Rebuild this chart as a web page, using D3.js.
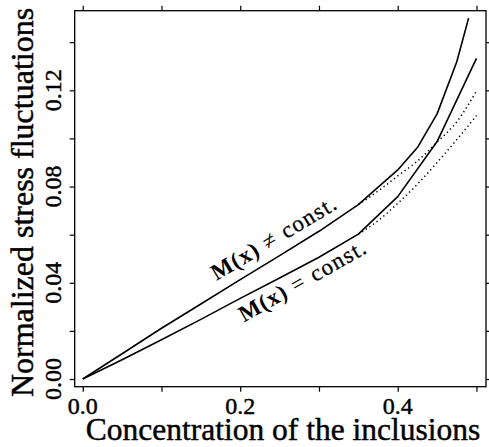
<!DOCTYPE html>
<html>
<head>
<meta charset="utf-8">
<script src="https://cdn.jsdelivr.net/npm/d3@7"></script>
<style>
  html, body { margin: 0; padding: 0; background: #fff; }
  svg { display: block; }
  text { font-family: "Liberation Serif", "Times New Roman", serif; fill: #000; }
</style>
</head>
<body>
<svg id="chart" width="489" height="447"></svg>
<script>
// ---- data ----
const xTickValues = [0, 0.1, 0.2, 0.3, 0.4, 0.5];
const xTickLabels = [0, 0.2, 0.4];
const yTickValues = [0, 0.02, 0.04, 0.06, 0.08, 0.10, 0.12, 0.14];
const yTickLabels = [0, 0.04, 0.08, 0.12];

// M(x) != const. (solid)
const varX = [0, 0.05, 0.1, 0.15, 0.2, 0.25, 0.3, 0.35, 0.4, 0.425, 0.45, 0.475, 0.49];
const varY = [0, 0.0105, 0.0211, 0.0312, 0.0413, 0.0513, 0.0614, 0.0725, 0.0869, 0.0962, 0.1102, 0.1319, 0.150];
// M(x) = const. (solid)
const constX = [0, 0.05, 0.1, 0.15, 0.2, 0.25, 0.3, 0.35, 0.4, 0.45, 0.5];
const constY = [0, 0.008, 0.0163, 0.0248, 0.0335, 0.042, 0.0506, 0.0602, 0.0758, 0.0987, 0.1333];
// dotted continuations
const dotX = [0.35, 0.375, 0.4, 0.425, 0.45, 0.475, 0.5];
const varDotY = [0.0725, 0.0781, 0.0844, 0.0906, 0.0985, 0.1069, 0.1197];
const constDotY = [0.0602, 0.0658, 0.0730, 0.0810, 0.0900, 0.0995, 0.1095];

const xTitle = "Concentration of the inclusions";
const yTitle = "Normalized stress fluctuations";

// ---- layout ----
const svg = d3.select("#chart");
const L = 74.7, R = 486, T = 10.7, B = 386.7;
const x = d3.scaleLinear().domain([-0.0102, 0.5121]).range([L, R]);
const y = d3.scaleLinear().domain([-0.0032, 0.1531]).range([B, T]);

// frame
svg.append("rect").attr("x", L).attr("y", T).attr("width", R - L).attr("height", B - T)
  .attr("fill", "none").attr("stroke", "#000").attr("stroke-width", 1.3);

const tickLen = 5;
function styleAxis(g) {
  g.select(".domain").remove();
  g.selectAll(".tick line").attr("stroke", "#000").attr("stroke-width", 1.2);
}
svg.append("g").attr("transform", `translate(0,${B})`)
  .call(d3.axisBottom(x).tickValues(xTickValues).tickSize(tickLen).tickFormat(""))
  .call(styleAxis);
svg.append("g").attr("transform", `translate(0,${T})`)
  .call(d3.axisTop(x).tickValues(xTickValues).tickSize(tickLen).tickFormat(""))
  .call(styleAxis);
svg.append("g").attr("transform", `translate(${L},0)`)
  .call(d3.axisLeft(y).tickValues(yTickValues).tickSize(tickLen).tickFormat(""))
  .call(styleAxis);
svg.append("g").attr("transform", `translate(${R},0)`)
  .call(d3.axisRight(y).tickValues(yTickValues).tickSize(tickLen).tickFormat(""))
  .call(styleAxis);

const heavy = sel => sel.attr("stroke", "#000").attr("stroke-width", 0.45);

// tick labels
svg.append("g").selectAll("text").data(xTickLabels).join("text")
  .attr("x", d => x(d)).attr("y", 413.5)
  .attr("text-anchor", "middle").attr("font-size", 24)
  .call(heavy)
  .text(d => d3.format(".1f")(d));
svg.append("g").selectAll("text").data(yTickLabels).join("text")
  .attr("transform", d => `translate(61,${y(d)}) rotate(-90)`)
  .attr("text-anchor", "middle").attr("font-size", 24)
  .call(heavy)
  .text(d => d3.format(".2f")(d));

// axis titles
svg.append("text").attr("x", 283).attr("y", 440)
  .attr("text-anchor", "middle").attr("font-size", 31.5).call(heavy).text(xTitle);
svg.append("text").attr("transform", "translate(33,202.5) rotate(-90)")
  .attr("text-anchor", "middle").attr("font-size", 32).call(heavy).text(yTitle);

// lines
const line = d3.line().x(d => x(d[0])).y(d => y(d[1]));
const smooth = d3.line().x(d => x(d[0])).y(d => y(d[1])).curve(d3.curveMonotoneX);
const zip = (a, b) => a.map((v, i) => [v, b[i]]);

svg.append("path").datum(zip(varX, varY)).attr("d", line)
  .attr("fill", "none").attr("stroke", "#000").attr("stroke-width", 1.6).attr("stroke-linejoin", "round");
svg.append("path").datum(zip(constX, constY)).attr("d", line)
  .attr("fill", "none").attr("stroke", "#000").attr("stroke-width", 1.6).attr("stroke-linejoin", "round");
svg.append("path").datum(zip(dotX, varDotY)).attr("d", smooth)
  .attr("fill", "none").attr("stroke", "#000").attr("stroke-width", 1.5)
  .attr("stroke-dasharray", "1.3 3.1");
svg.append("path").datum(zip(dotX, constDotY)).attr("d", smooth)
  .attr("fill", "none").attr("stroke", "#000").attr("stroke-width", 1.5)
  .attr("stroke-dasharray", "1.3 3.1");

// curve labels
function label(px, py, angle, rel) {
  const t = svg.append("text")
    .attr("transform", `translate(${x(px)},${y(py)}) rotate(${angle})`)
    .attr("font-size", 23);
  t.append("tspan").attr("font-weight", "bold").attr("letter-spacing", 1).text("M(x)");
  t.append("tspan").attr("dx", 7).text(rel);
  t.append("tspan").attr("dx", 9).attr("letter-spacing", 1.3).attr("stroke", "#000").attr("stroke-width", 0.3).text("const.");
}
label(0.170, 0.0407, -31, "\u2260");
label(0.2048, 0.0235, -29.5, "=");
</script>
</body>
</html>
